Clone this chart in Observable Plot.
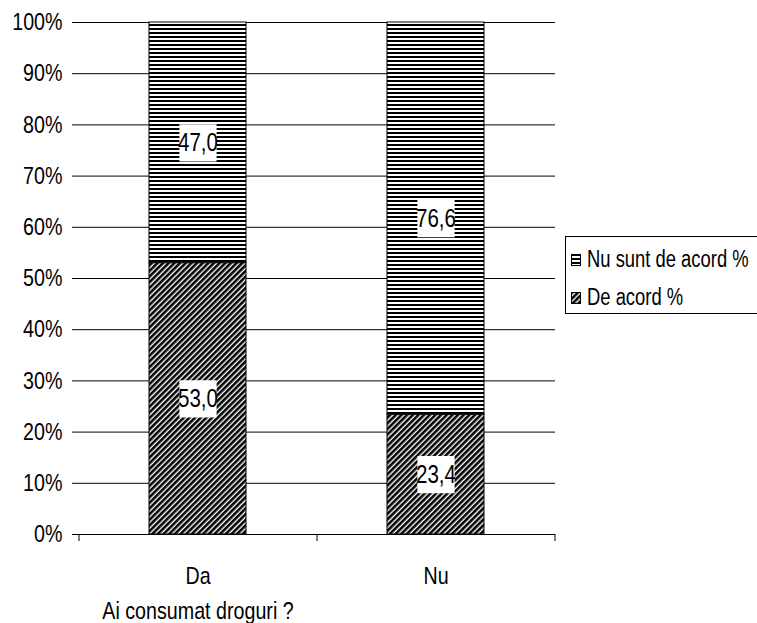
<!DOCTYPE html>
<html>
<head>
<meta charset="utf-8">
<script src="https://cdn.jsdelivr.net/npm/d3@7"></script>
<script src="https://cdn.jsdelivr.net/npm/@observablehq/plot@0.6"></script>
<style>
  html, body { margin: 0; padding: 0; background: #fff; overflow: hidden; }
  #wrap { position: relative; width: 757px; height: 623px; overflow: hidden; }
  #legend {
    position: absolute; left: 565px; top: 236px; width: 220px; height: 76px;
    border: 1px solid #000; background: #fff;
    font-family: 'Liberation Sans', Arial, sans-serif;
    font-size: 23px; color: #000;
  }
  .item { position: absolute; left: 5px; display: flex; align-items: center; white-space: nowrap; }
  .item span { display: inline-block; width: 150px; transform: scaleX(0.8); transform-origin: left center; }
</style>
</head>
<body>
<div id="wrap"></div>
<script>
const categories = ["Da", "Nu"];
const series = ["De acord %", "Nu sunt de acord %"];
const deAcord = [53.0, 23.4];
const nuSuntDeAcord = [47.0, 76.6];
const yTicks = [0, 10, 20, 30, 40, 50, 60, 70, 80, 90, 100];
const axisTitle = "Ai consumat droguri ?";

const rows = [];
categories.forEach((c, i) => {
  rows.push({cat: c, series: series[0], value: deAcord[i]});
  rows.push({cat: c, series: series[1], value: nuSuntDeAcord[i]});
});

const W = 757, H = 623, mL = 79, mR = 202, mT = 22, mB = 89;
const step = (W - mL - mR) / categories.length;
const font = "'Liberation Sans', Arial, sans-serif";
const fmt = v => v.toFixed(1).replace(".", ",");

const chart = Plot.plot({
  width: W, height: H,
  marginLeft: mL, marginRight: mR, marginTop: mT, marginBottom: mB,
  style: {fontFamily: font, fontSize: "24px", color: "#000", background: "#fff"},
  x: {domain: categories, paddingInner: 0.592, paddingOuter: 0.296, label: null},
  y: {domain: [0, 100], label: null, line: true},
  color: {domain: series, range: ["url(#patDiag)", "url(#patHoriz)"]},
  marks: [
    Plot.gridY(yTicks, {stroke: "#000", strokeOpacity: 1}),
    Plot.barY(rows, Plot.stackY({x: "cat", y: "value", fill: "series", order: series, stroke: "#000", strokeWidth: 1})),
    Plot.dot(rows, Plot.stackY({x: "cat", y: "value", z: "series", order: series, symbol: "square", r: 21, fill: "#fff"})),
    Plot.text(rows, Plot.stackY({x: "cat", y: "value", z: "series", order: series, text: d => fmt(d.value), fill: "#000", fontSize: 25})),
    Plot.ruleY([0], {stroke: "#000"}),
    Plot.axisY({ticks: yTicks, tickFormat: d => d + "%", tickSize: 7, tickPadding: 10, fontSize: 24, label: null}),
    Plot.axisX({tickSize: 0, tickPadding: 32, fontSize: 24, label: null}),
    Plot.axisX({tickSize: 7, tickFormat: () => "", dx: -step / 2, label: null}),
    Plot.axisX({ticks: [categories[categories.length - 1]], tickSize: 7, tickFormat: () => "", dx: step / 2, label: null}),
    Plot.text([axisTitle], {x: () => categories[0], frameAnchor: "bottom", dy: 84, text: d => d, fontSize: 24, fill: "#000"})
  ]
});

const defs = `
<defs>
  <pattern id="patHoriz" patternUnits="userSpaceOnUse" width="8" height="4">
    <rect width="8" height="4" fill="#fff"/>
    <rect width="8" height="2" fill="#000"/>
  </pattern>
  <pattern id="patDiag" patternUnits="userSpaceOnUse" width="4" height="4" patternTransform="rotate(45)">
    <rect width="4" height="4" fill="#fff"/>
    <rect width="2.6" height="4" fill="#000"/>
  </pattern>
</defs>`;
chart.insertAdjacentHTML("afterbegin", defs);

// condense text horizontally to mimic a narrow sans face
chart.querySelectorAll("text").forEach(t => {
  const x = parseFloat(t.getAttribute("x")) || 0;
  const tr = t.getAttribute("transform") || "";
  t.setAttribute("transform", `${tr} translate(${x},0) scale(0.82,1) translate(${-x},0)`);
});

const wrap = document.getElementById("wrap");
wrap.appendChild(chart);

const legend = document.createElement("div");
legend.id = "legend";
const legendItems = [series[1], series[0]];
legendItems.forEach((s, i) => {
  const item = document.createElement("div");
  item.className = "item";
  item.style.top = (i === 0 ? 9 : 47) + "px";
  const sw = document.createElementNS("http://www.w3.org/2000/svg", "svg");
  sw.setAttribute("width", 10); sw.setAttribute("height", 12);
  sw.style.marginRight = "6px";
  const r = document.createElementNS("http://www.w3.org/2000/svg", "rect");
  r.setAttribute("x", 0.5); r.setAttribute("y", 0.5); r.setAttribute("width", 9); r.setAttribute("height", 11);
  r.setAttribute("fill", s === series[1] ? "url(#patHoriz)" : "url(#patDiag)");
  r.setAttribute("stroke", "#000");
  sw.appendChild(r);
  item.appendChild(sw);
  const t = document.createElement("span");
  t.textContent = s;
  item.appendChild(t);
  legend.appendChild(item);
});
wrap.appendChild(legend);
</script>
</body>
</html>
